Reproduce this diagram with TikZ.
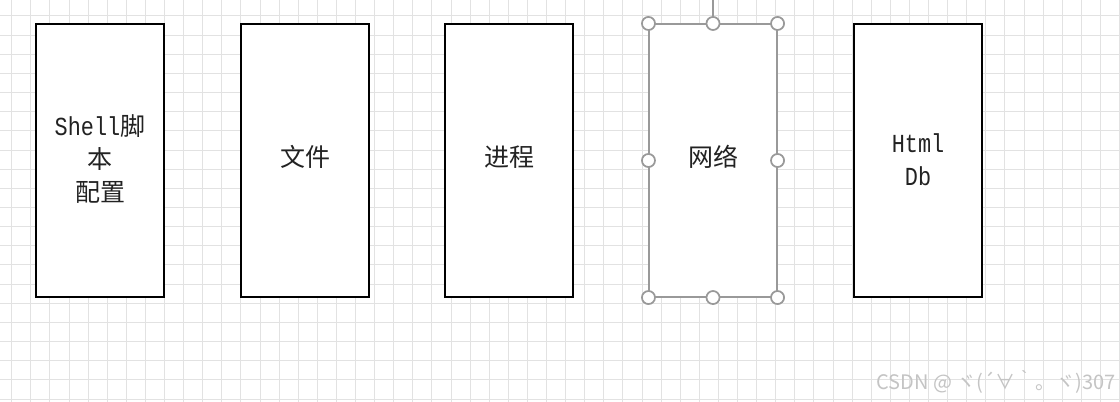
\documentclass[tikz,border=0pt]{standalone}
\usepackage{fontspec}
\newfontfamily\cjk{Noto Sans CJK SC}
\newfontfamily\latmono[FakeStretch=0.84]{Liberation Mono}
\newcommand\latw[1]{{\latmono\fontsize{19.5}{24.5}\selectfont #1}}
\definecolor{gridc}{HTML}{E2E2E2}
\definecolor{selc}{HTML}{999999}
\definecolor{txtc}{HTML}{222222}
\definecolor{wmc}{HTML}{C4C4C4}
\tikzset{
  gridline/.style={draw=gridc, line width=0.75pt},
  box/.style={draw=black, line width=1pt, fill=white, minimum width=96pt, minimum height=204.75pt, inner sep=0pt},
  selbox/.style={box, draw=selc, line width=0.8pt},
  lbl/.style={text=txtc, align=center, font=\cjk\fontsize{18.75}{24.5}\selectfont, inner sep=0pt},
  handle/.style={circle, draw=selc, line width=1.3pt, fill=white, minimum size=9.8pt, inner sep=0pt},
  wm/.style={text=wmc, font=\cjk\fontsize{15}{18}\selectfont, inner sep=0pt}
}
\begin{document}
\begin{tikzpicture}[x=0.75pt,y=-0.75pt]
\useasboundingbox (0,0) rectangle (1120,402);
\fill[white] (0,0) rectangle (1120,402);
% grid
\foreach \i in {0,...,58} \draw[gridline] ({11.7+19.1*\i},0) -- ({11.7+19.1*\i},402);
\foreach \j in {0,...,20} \draw[gridline] (0,{16+19.15*\j}) -- (1120,{16+19.15*\j});
% boxes
\node[box] (b1) at (100,160.5) {};
\node[box] (b2) at (305,160.5) {};
\node[box] (b3) at (509,160.5) {};
\node[selbox] (b4) at (713,160.5) {};
\node[box] (b5) at (918,160.5) {};
% labels
\node[lbl] (t1) at (100,159) {\latw{Shell}脚\\本\\配置};
\node[lbl] (t2) at (305,157) {文件};
\node[lbl] (t3) at (509,157) {进程};
\node[lbl] (t4) at (713,157) {网络};
\node[lbl] (t5) at (918,159.5) {\latw{Html}\\\latw{Db}};
% selection handles
\coordinate (rtop) at (713,0);
\draw[draw=selc, line width=0.9pt] (b4.north) -- (rtop);
\node[handle] (h1) at (b4.north west) {};
\node[handle] (h2) at (b4.north) {};
\node[handle] (h3) at (b4.north east) {};
\node[handle] (h4) at (b4.west) {};
\node[handle] (h5) at (b4.east) {};
\node[handle] (h6) at (b4.south west) {};
\node[handle] (h7) at (b4.south) {};
\node[handle] (h8) at (b4.south east) {};
% watermark
\node[wm, anchor=east] (wm) at (1116,382) {CSDN @ ヾ(´∀｀。ヾ)307};
\end{tikzpicture}
\end{document}
